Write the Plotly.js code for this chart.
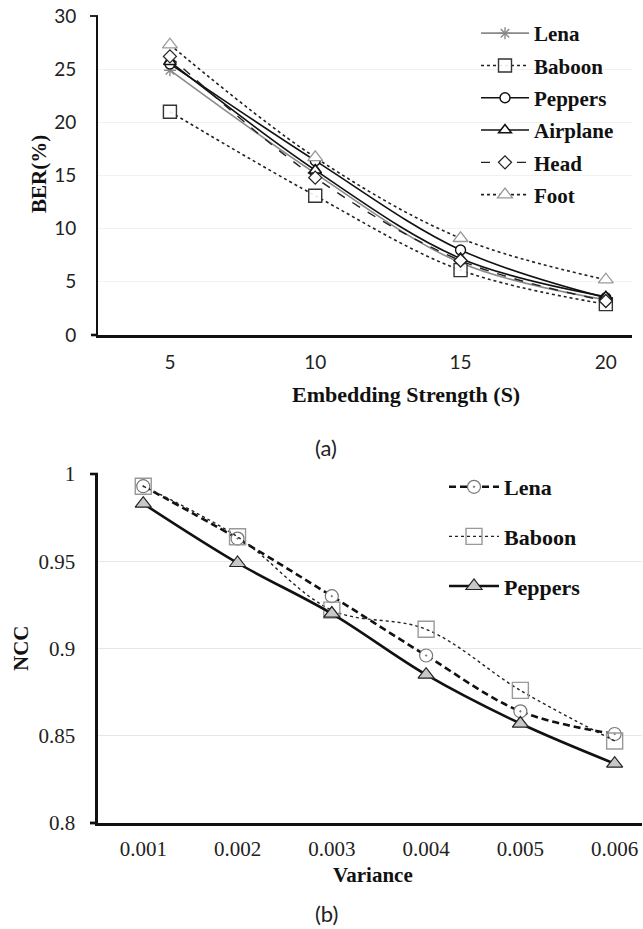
<!DOCTYPE html>
<html>
<head>
<meta charset="utf-8">
<script src="https://cdn.plot.ly/plotly-3.0.1.min.js"></script>
<style>html,body{margin:0;padding:0;background:#fff;}#chart{width:643px;height:929px;}</style>
</head>
<body>
<div id="chart"></div>
<script>
// ---------- Data: chart (a) ----------
const strengthCats = ['5', '10', '15', '20'];
const berLena     = [24.9, 15.2, 6.8, 3.3];
const berBaboon   = [21.0, 13.1, 6.1, 2.9];
const berPeppers  = [25.5, 16.4, 8.0, 3.5];
const berAirplane = [25.7, 15.5, 7.2, 3.6];
const berHead     = [26.2, 14.8, 7.0, 3.2];
const berFoot     = [27.3, 16.7, 9.1, 5.2];
const berTicks    = [0, 5, 10, 15, 20, 25, 30];

// ---------- Data: chart (b) ----------
const varianceCats = ['0.001', '0.002', '0.003', '0.004', '0.005', '0.006'];
const nccLena    = [0.993, 0.963, 0.930, 0.896, 0.864, 0.851];
const nccBaboon  = [0.993, 0.964, 0.922, 0.911, 0.876, 0.847];
const nccPeppers = [0.983, 0.949, 0.920, 0.885, 0.857, 0.834];
const nccTicks   = [0.8, 0.85, 0.9, 0.95, 1];
const nccTickText = ['0.8', '0.85', '0.9', '0.95', '1'];

// ---------- helpers (pixel -> paper) ----------
const W = 643, H = 929;
const px = x => x / W;
const py = y => 1 - y / H;

const serif = "'Liberation Serif', 'Times New Roman', Times, serif";
const sans = 'Lato';

function tr(x, y, name, opts) {
  return Object.assign({
    x: x, y: y, name: name, type: 'scatter', mode: 'lines+markers',
    line: {shape: 'spline', smoothing: 1}
  }, opts);
}

const traces = [
  tr(strengthCats, berLena, 'Lena', {
    xaxis: 'x', yaxis: 'y', legend: 'legend', legendgroup: 'a1',
    line: {shape: 'spline', color: '#8a8a8a', width: 1.6},
    marker: {symbol: 'asterisk-open', size: 10, line: {color: '#8a8a8a', width: 1.4}}
  }),
  tr(strengthCats, berBaboon, 'Baboon', {
    xaxis: 'x', yaxis: 'y', legend: 'legend', legendgroup: 'a2',
    line: {shape: 'spline', color: '#222', width: 1.6, dash: 'dot'},
    marker: {symbol: 'square', size: 13, color: 'rgba(255,255,255,0.9)', line: {color: '#333', width: 1.4}}
  }),
  tr(strengthCats, berPeppers, 'Peppers', {
    xaxis: 'x', yaxis: 'y', legend: 'legend', legendgroup: 'a3',
    line: {shape: 'spline', color: '#111', width: 1.6},
    marker: {symbol: 'circle', size: 10, color: 'white', line: {color: '#111', width: 1.4}}
  }),
  tr(strengthCats, berAirplane, 'Airplane', {
    xaxis: 'x', yaxis: 'y', legend: 'legend', legendgroup: 'a4',
    line: {shape: 'spline', color: '#111', width: 1.6},
    marker: {symbol: 'triangle-up', size: 11, color: 'white', line: {color: '#111', width: 1.6}}
  }),
  tr(strengthCats, berHead, 'Head', {
    xaxis: 'x', yaxis: 'y', legend: 'legend', legendgroup: 'a5',
    line: {shape: 'spline', color: '#222', width: 1.4, dash: 'dash'},
    marker: {symbol: 'diamond', size: 10, color: 'white', line: {color: '#222', width: 1.3}}
  }),
  tr(strengthCats, berFoot, 'Foot', {
    xaxis: 'x', yaxis: 'y', legend: 'legend', legendgroup: 'a6',
    line: {shape: 'spline', color: '#222', width: 1.6, dash: 'dot'},
    marker: {symbol: 'triangle-up', size: 13, color: 'white', line: {color: '#999', width: 1.3}}
  }),
  tr(varianceCats, nccLena, 'Lena', {
    xaxis: 'x2', yaxis: 'y2', legend: 'legend2', legendgroup: 'b1',
    line: {shape: 'spline', color: '#111', width: 2.6, dash: '7px,4px'},
    marker: {symbol: 'circle-dot', size: 13, color: 'white', line: {color: '#777', width: 1.2}}
  }),
  tr(varianceCats, nccBaboon, 'Baboon', {
    xaxis: 'x2', yaxis: 'y2', legend: 'legend2', legendgroup: 'b2',
    line: {shape: 'spline', color: '#222', width: 1.4, dash: 'dot'},
    marker: {symbol: 'square', size: 16, color: 'rgba(255,255,255,0)', line: {color: '#999', width: 1.4}}
  }),
  tr(varianceCats, nccPeppers, 'Peppers', {
    xaxis: 'x2', yaxis: 'y2', legend: 'legend2', legendgroup: 'b3',
    line: {shape: 'spline', color: '#111', width: 2.6},
    marker: {symbol: 'triangle-up', size: 14, color: '#c8c8c8', line: {color: '#222', width: 1.2}}
  })
];

const titleFont = {family: serif, size: 21, color: '#111', weight: 'bold'};
const titleFontL = {family: serif, size: 22, color: '#111', weight: 'bold'};

const layout = {
  width: W, height: H,
  margin: {l: 0, r: 0, t: 0, b: 0},
  paper_bgcolor: 'white', plot_bgcolor: 'white',
  showlegend: true,
  xaxis: {
    domain: [px(98), px(632)], anchor: 'y', type: 'category',
    range: [-0.495, 3.18],
    showline: true, linecolor: '#111', linewidth: 2.6,
    showgrid: false, zeroline: false, ticks: '',
    tickfont: {family: sans, size: 19, color: '#222'},
    ticklabelstandoff: 9
  },
  yaxis: {
    domain: [py(335), py(16)], anchor: 'x',
    range: [0, 30], tickvals: berTicks,
    showline: true, linecolor: '#111', linewidth: 1.8,
    showgrid: true, gridcolor: '#f1f1f1', gridwidth: 1, zeroline: false, ticks: '',
    tickfont: {family: sans, size: 19, color: '#222'},
    ticklabelstandoff: 16
  },
  xaxis2: {
    domain: [px(98), px(642)], anchor: 'y2', type: 'category',
    range: [-0.48, 5.29],
    showline: true, linecolor: '#111', linewidth: 2.8,
    showgrid: false, zeroline: false, ticks: '',
    tickfont: {family: serif, size: 21, color: '#222'},
    ticklabelstandoff: 5
  },
  yaxis2: {
    domain: [py(823), py(474)], anchor: 'x2',
    range: [0.8, 1], tickvals: nccTicks, ticktext: nccTickText,
    showline: true, linecolor: '#111', linewidth: 2.6,
    showgrid: true, gridcolor: '#e6e6e6', gridwidth: 1, zeroline: false, ticks: '',
    tickfont: {family: serif, size: 21, color: '#222'},
    ticklabelstandoff: 16
  },
  legend: {
    x: px(476), y: py(13), xanchor: 'left', yanchor: 'top',
    bgcolor: 'rgba(0,0,0,0)', borderwidth: 0,
    font: titleFont, itemwidth: 48, tracegroupgap: 2, traceorder: 'grouped'
  },
  legend2: {
    x: px(444), y: py(466), xanchor: 'left', yanchor: 'top',
    bgcolor: 'rgba(0,0,0,0)', borderwidth: 0,
    font: titleFontL,
    itemwidth: 50, tracegroupgap: 18, traceorder: 'grouped'
  },
  annotations: [
    {text: 'BER(%)', xref: 'paper', yref: 'paper', x: px(39), y: py(174), textangle: -90,
     showarrow: false, font: titleFont, xanchor: 'center', yanchor: 'middle'},
    {text: 'Embedding Strength (S)', xref: 'paper', yref: 'paper', x: px(406), y: py(395),
     showarrow: false, font: titleFontL, xanchor: 'center', yanchor: 'middle'},
    {text: '(a)', xref: 'paper', yref: 'paper', x: px(326), y: py(447),
     showarrow: false, font: {family: sans, size: 22, color: '#222'}, xanchor: 'center', yanchor: 'middle'},
    {text: 'NCC', xref: 'paper', yref: 'paper', x: px(21), y: py(648), textangle: -90,
     showarrow: false, font: titleFont, xanchor: 'center', yanchor: 'middle'},
    {text: 'Variance', xref: 'paper', yref: 'paper', x: px(373), y: py(875),
     showarrow: false, font: titleFont, xanchor: 'center', yanchor: 'middle'},
    {text: '(b)', xref: 'paper', yref: 'paper', x: px(326), y: py(913),
     showarrow: false, font: {family: sans, size: 22, color: '#222'}, xanchor: 'center', yanchor: 'middle'}
  ],
  shapes: [
    {type: 'line', xref: 'paper', yref: 'paper', x0: px(90), x1: px(98), y0: py(16), y1: py(16), line: {color: '#111', width: 1.8}},
    {type: 'line', xref: 'paper', yref: 'paper', x0: px(91), x1: px(98), y0: py(335), y1: py(335), line: {color: '#111', width: 2.6}},
    {type: 'line', xref: 'paper', yref: 'paper', x0: px(90), x1: px(98), y0: py(474), y1: py(474), line: {color: '#111', width: 2.6}},
    {type: 'line', xref: 'paper', yref: 'paper', x0: px(90), x1: px(98), y0: py(823), y1: py(823), line: {color: '#111', width: 2.8}}
  ]
};

Plotly.newPlot('chart', traces, layout, {displayModeBar: false, staticPlot: true});
</script>
</body>
</html>
